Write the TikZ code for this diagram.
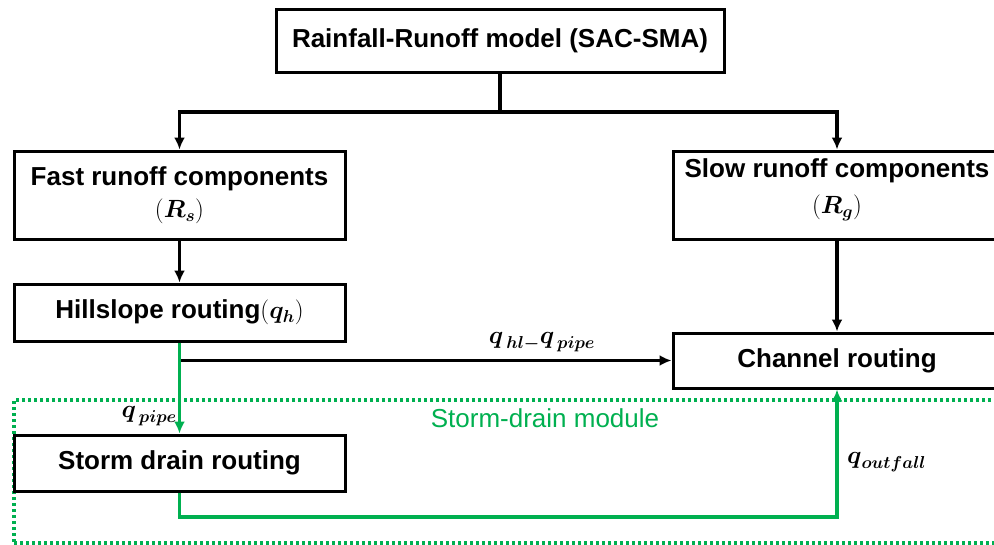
\documentclass[tikz,border=0pt]{standalone}
\usepackage{amsmath}
\usepackage{fontspec}
\setmainfont{Liberation Sans}
\usetikzlibrary{arrows.meta}
\definecolor{offgreen}{RGB}{0,176,80}
\begin{document}
\begin{tikzpicture}[x=1pt,y=-1pt,
  box/.style={draw=black, line width=3pt, rectangle, inner sep=0pt, align=center,
    font=\fontsize{26}{36}\selectfont\bfseries},
  arr/.style={line width=3.2pt, -{Latex[length=12pt,width=11pt]}},
  garr/.style={line width=3.2pt, draw=offgreen, -{Latex[length=12pt,width=11pt]}},
  lbl/.style={inner sep=0pt, font=\fontsize{26}{30}\selectfont}
]
\useasboundingbox (0,0) rectangle (994,544);
\clip (0,0) rectangle (994,544);
\fill[white] (0,0) rectangle (994,544);

% storm-drain module frame
\node[draw=offgreen, line width=3.2pt, dash pattern=on 3pt off 3pt, rectangle, inner sep=0pt,
  minimum width=990pt, minimum height=143pt] (module) at (509,471.5) {};
\node[lbl, text=offgreen] (modlbl) at (545,418) {Storm-drain module};

\node[box, minimum width=448pt, minimum height=63pt] (top) at (500,40.5) {Rainfall-Runoff model (SAC-SMA)};
\node[box, minimum width=331pt, minimum height=88pt] (fast) at (179.5,195) {Fast runoff components\\[-4pt]$(\boldsymbol{R_s})$};
\node[box, minimum width=328pt, minimum height=88pt] (slow) at (837,195) {Slow runoff components\\[0pt]$(\boldsymbol{R_g})$\rule[-17pt]{0pt}{0pt}};
\node[box, minimum width=331pt, minimum height=57pt] (hill) at (179.5,312.5) {Hillslope routing$(\boldsymbol{q_h})$};
\node[box, minimum width=328pt, minimum height=55pt] (chan) at (837,360.5) {Channel routing};
\node[box, minimum width=331pt, minimum height=56pt] (storm) at (179.5,463) {Storm drain routing};

\coordinate (split) at (500,112);
\coordinate (junc) at (hill.south |- chan.west);
\coordinate (low) at (storm.south |- 0,517);

\draw[line width=3.2pt] (top.south) -- (split);
\draw[arr] (split) -| (fast.north);
\draw[arr] (split) -| (slow.north);
\draw[arr] (fast.south) -- (hill.north);
\draw[arr] (slow.south) -- (chan.north);
\draw[arr] (junc) -- (chan.west);
\draw[garr] (hill.south) -- (storm.north);
\draw[garr] (storm.south) -- (low) -| (chan.south);

\node[lbl, anchor=east] (qpipe) at (177,416) {$\boldsymbol{q}_{\,\boldsymbol{pipe}}$};
\node[lbl] (qhl) at (542,342) {$\boldsymbol{q}_{\,\boldsymbol{hl-}}\boldsymbol{q}_{\,\boldsymbol{pipe}}$};
\node[lbl, anchor=west] (qout) at (847,462) {$\boldsymbol{q}_{\boldsymbol{outfall}}$};
\end{tikzpicture}
\end{document}
